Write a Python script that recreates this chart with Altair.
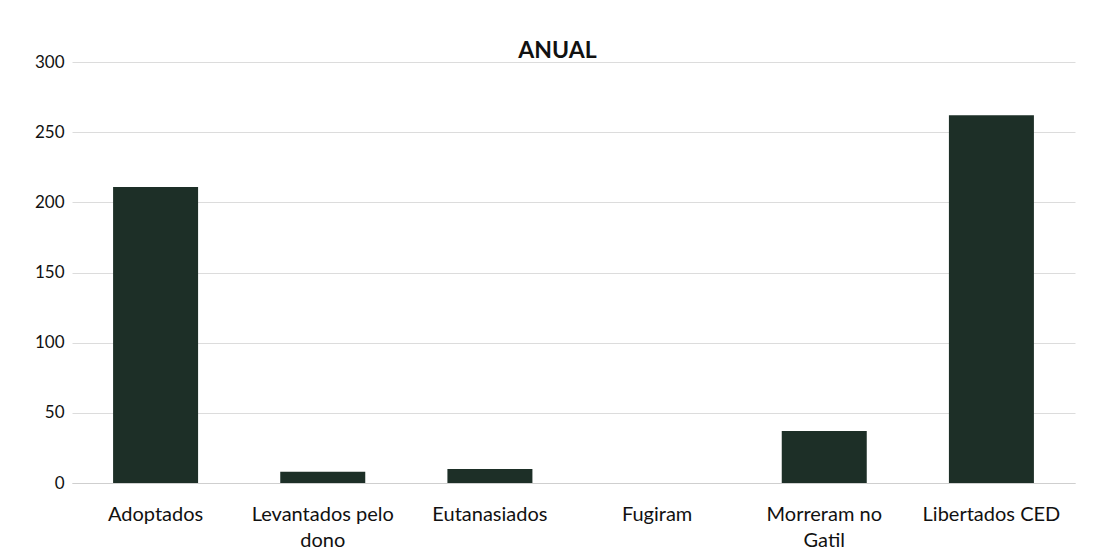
import altair as alt
import pandas as pd

categories = ["Adoptados", "Levantados pelo|dono", "Eutanasiados", "Fugiram", "Morreram no|Gatil", "Libertados CED"]
values = [211, 8, 10, 0, 37, 262]
y_ticks = [0, 50, 100, 150, 200, 250, 300]

df = pd.DataFrame({"cat": categories, "val": values})

FONT = "Lato"

chart = alt.Chart(df).mark_bar(color="#1d2f27", size=85).encode(
    x=alt.X("cat:N", sort=categories, title=None,
            scale=alt.Scale(paddingInner=0.49, paddingOuter=0.245),
            axis=alt.Axis(labelAngle=0, labelExpr="split(datum.label, '|')",
                          labelFontSize=20, labelFont=FONT, labelColor="#111111",
                          labelPadding=21, labelLineHeight=26, ticks=False,
                          domainColor="#cfcfcf", grid=False)),
    y=alt.Y("val:Q", title=None,
            scale=alt.Scale(domain=[0, 300], nice=False),
            axis=alt.Axis(values=y_ticks, labelFontSize=17, labelFont=FONT,
                          labelColor="#111111", labelPadding=8, ticks=False,
                          domain=False, gridColor="#dcdcdc", gridWidth=1)),
).properties(
    width=1003, height=421,
    title=alt.TitleParams("ANUAL", fontSize=23, font=FONT, fontWeight="bold",
                          color="#111111", offset=-10, dx=-16, anchor="middle"),
    autosize=alt.AutoSizeParams(type="none"),
    padding={"left": 64, "top": 54, "right": 11, "bottom": 66},
).configure_view(stroke=None)

chart.save("out.html", embed_options={"renderer": "svg", "actions": False})
